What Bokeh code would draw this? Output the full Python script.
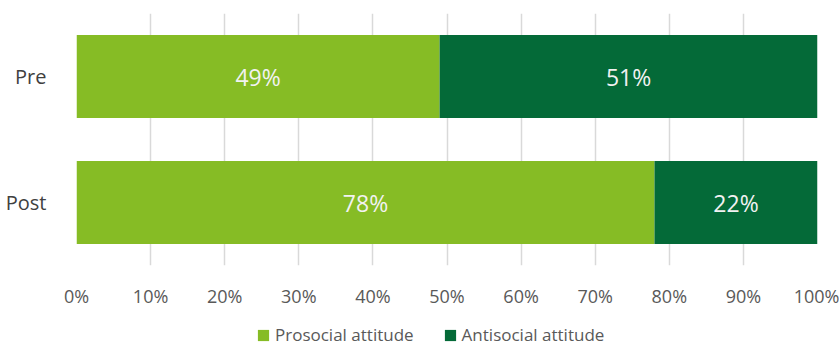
from bokeh.plotting import figure
from bokeh.layouts import column
from bokeh.models import ColumnDataSource, FactorRange, Legend, LegendItem, NumeralTickFormatter, FixedTicker
from bokeh.core.properties import value
from bokeh.embed import file_html
from bokeh.resources import INLINE

categories = ["Post", "Pre"]
prosocial = [0.78, 0.49]
antisocial = [0.22, 0.51]
series_names = ["Prosocial attitude", "Antisocial attitude"]
tick_values = [i / 10 for i in range(11)]

colors = ["#86BC25", "#046A38"]
FONT = "Open Sans"

p = figure(width=839, height=310, y_range=FactorRange(*categories), x_range=(0, 1),
           output_backend="svg", toolbar_location=None,
           min_border_left=76, min_border_right=22, min_border_top=13, min_border_bottom=44)
p.outline_line_color = None
p.background_fill_color = "white"

src = ColumnDataSource(dict(cat=categories, pro=prosocial, anti=antisocial,
                            left0=[0] * len(categories),
                            pro_mid=[v / 2 for v in prosocial],
                            anti_left=prosocial,
                            anti_right=[a + b for a, b in zip(prosocial, antisocial)],
                            anti_mid=[a + b / 2 for a, b in zip(prosocial, antisocial)],
                            pro_lab=[f"{round(v*100)}%" for v in prosocial],
                            anti_lab=[f"{round(v*100)}%" for v in antisocial]))

p.hbar(y="cat", left="left0", right="pro", height=0.66, source=src,
       fill_color=colors[0], line_color=None)
p.hbar(y="cat", left="anti_left", right="anti_right", height=0.66, source=src,
       fill_color=colors[1], line_color=None)

p.text(x="pro_mid", y="cat", text="pro_lab", source=src, text_align="center",
       text_baseline="middle", text_color="#F2F2F2", text_font_size="23px",
       text_font=value(FONT))
p.text(x="anti_mid", y="cat", text="anti_lab", source=src, text_align="center",
       text_baseline="middle", text_color="#F2F2F2", text_font_size="23px",
       text_font=value(FONT))

p.xaxis.ticker = FixedTicker(ticks=tick_values)
p.xaxis.formatter = NumeralTickFormatter(format="0%")
p.xaxis.axis_line_color = None
p.xaxis.major_tick_line_color = None
p.xaxis.minor_tick_line_color = None
p.xaxis.major_label_text_font = FONT
p.xaxis.major_label_text_font_size = "18px"
p.xaxis.major_label_text_color = "#595959"
p.xaxis.major_label_standoff = 12

p.yaxis.axis_line_color = None
p.yaxis.major_tick_line_color = None
p.yaxis.minor_tick_line_color = None
p.yaxis.major_label_text_font = FONT
p.yaxis.major_label_text_font_size = "20px"
p.yaxis.major_label_text_color = "#404040"
p.yaxis.major_label_standoff = 24

p.ygrid.grid_line_color = None
p.xgrid.grid_line_color = "#D9D9D9"
p.xgrid.grid_line_width = 1.5

# Legend strip below the chart (swatch renderers sit outside the visible range)
p2 = figure(width=839, height=35, x_range=(0, 1), y_range=(0, 1),
            output_backend="svg", toolbar_location=None,
            min_border=0)
p2.outline_line_color = None
p2.axis.visible = False
p2.grid.grid_line_color = None
g1 = p2.rect(x=[-5], y=[-5], width=1, height=1, fill_color=colors[0], line_color=None)
g2 = p2.rect(x=[-5], y=[-5], width=1, height=1, fill_color=colors[1], line_color=None)

legend = Legend(items=[LegendItem(label=series_names[0], renderers=[g1]),
                       LegendItem(label=series_names[1], renderers=[g2])],
                orientation="horizontal", location=(180, -1),
                glyph_width=14, glyph_height=14, label_standoff=5, spacing=29,
                padding=0, margin=0, border_line_color=None, background_fill_alpha=0,
                label_text_font=FONT, label_text_font_size="17px", label_text_color="#595959")
p2.add_layout(legend, "center")

layout = column(p, p2, spacing=0)
open("out.html", "w").write(file_html(layout, INLINE))
